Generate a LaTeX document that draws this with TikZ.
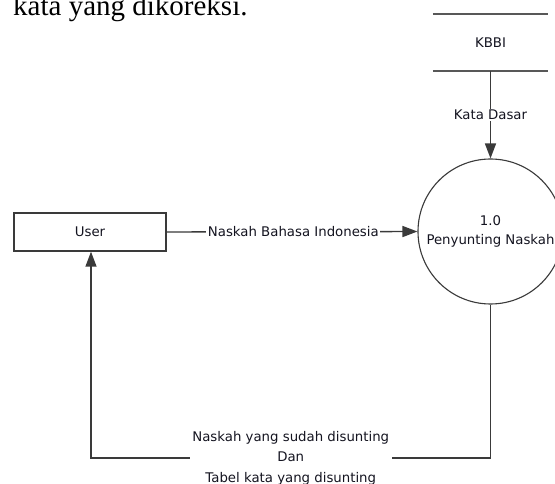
\documentclass[tikz,border=0pt]{standalone}
\usepackage{fontspec}
\setmainfont{Liberation Serif}
\newfontfamily\diafont{DejaVu Sans}
\usetikzlibrary{arrows.meta}
\definecolor{linec}{HTML}{3A3A3A}
\definecolor{textc}{HTML}{141420}
\begin{document}
\begin{tikzpicture}[x=1pt,y=-1pt,
  every node/.style={text=textc},
  dfont/.style={font=\diafont\fontsize{13.3}{20.5}\selectfont},
  entity/.style={draw=linec,line width=1.4pt,minimum width=152pt,minimum height=38pt,inner sep=0pt,dfont},
  process/.style={circle,draw=linec,line width=1.1pt,minimum size=145pt,inner sep=0pt,align=center,dfont},
  storebox/.style={minimum width=115pt,minimum height=57pt,inner sep=0pt,dfont},
  storeline/.style={draw=linec!85,line width=1.8pt},
  flow/.style={draw=linec,line width=1.4pt,-{Triangle[length=15pt,width=11pt]}},
  flowlabel/.style={fill=white,inner xsep=1.5pt,inner ysep=1pt,dfont,align=center}]
\useasboundingbox (0,0) rectangle (555,484);
\clip (0,0) rectangle (555,484);
\fill[white] (0,0) rectangle (555,484);
% caption text, cut off at the top edge as in the reference
\node[anchor=base west,inner sep=0pt,text=black,font=\fontsize{29}{34}\selectfont] (cap) at (13,16) {kata yang dikoreksi.};
% data store
\node[storebox] (kbbi) at (490.5,42.5) {KBBI};
\draw[storeline] (kbbi.north west) -- (kbbi.north east);
\draw[storeline] (kbbi.south west) -- (kbbi.south east);
% process
\node[process] (proc) at (490.5,231.5) {1.0\\[-1pt]Penyunting Naskah};
% entity
\node[entity] (user) at (90,232) {User};
% flows
\draw[flow] (kbbi.south) -- node[flowlabel,pos=0.5] {Kata Dasar} (proc.north);
\draw[flow] (user.east) -- node[flowlabel,pos=0.505] {Naskah Bahasa Indonesia} (proc.west);
\coordinate (bend) at (0,458);
\draw[flow] (proc.south) -- (proc.south |- bend) -- node[flowlabel,pos=0.5,inner xsep=2.5pt] {Naskah yang sudah disunting\\Dan\\Tabel kata yang disunting} ([xshift=1pt]user.south |- bend) -- ([xshift=1pt]user.south);
\end{tikzpicture}
\end{document}
